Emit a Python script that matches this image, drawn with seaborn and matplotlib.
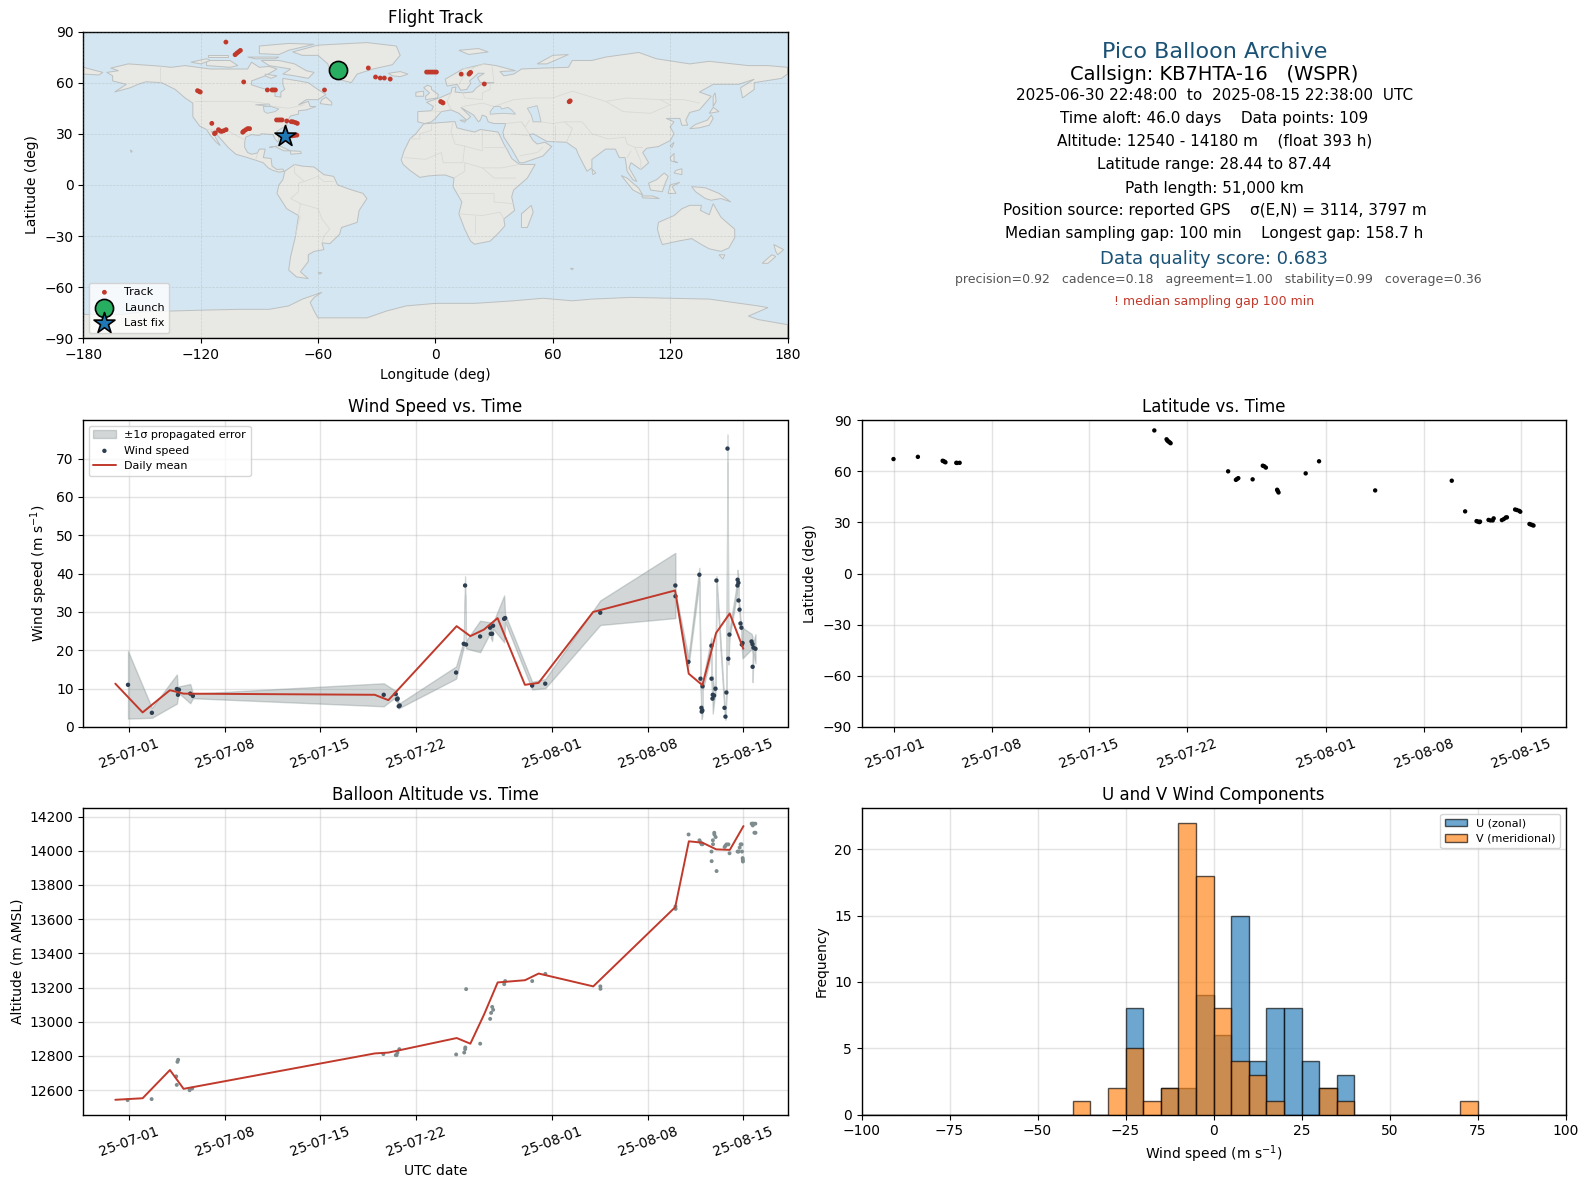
import numpy as np
import pandas as pd
import matplotlib
matplotlib.use("Agg")
import matplotlib.pyplot as plt
import matplotlib.dates as mdates
import seaborn as sns

# ---------- wind speed ----------
wind_days = [-0.07, 1.68, 3.51, 3.59, 3.66, 4.49, 4.68, 18.66, 19.54, 19.63, 19.68, 19.76, 19.83,
             23.96, 24.52, 24.62, 24.69, 25.72, 26.45, 26.5, 26.6, 26.67, 27.48, 27.55, 29.53, 30.49,
             34.52, 40.02, 40.03, 40.98, 41.78, 41.86, 41.93, 41.95, 42.0, 42.01, 42.66, 42.67, 42.74,
             42.76, 42.86, 42.96, 43.03, 43.62, 43.69, 43.76, 43.84, 43.9, 43.98, 44.57, 44.58, 44.64,
             44.65, 44.72, 44.79, 44.86, 44.89, 44.94, 45.6, 45.67, 45.68, 45.74, 45.89]
wind_speed = [11.0, 3.7, 9.9, 8.4, 9.7, 8.7, 8.1, 8.4, 8.6, 7.2, 7.4, 5.4, 5.6,
              14.2, 21.7, 36.9, 21.5, 23.6, 25.9, 24.3, 24.3, 26.4, 28.2, 28.4, 10.8, 11.3,
              29.8, 36.9, 34.1, 17.0, 39.7, 12.6, 5.0, 4.0, 4.3, 10.6, 21.2, 12.6, 7.4,
              8.4, 8.2, 10.0, 38.2, 5.0, 2.7, 9.0, 72.6, 17.8, 24.1, 36.9, 38.4, 37.6,
              33.0, 30.6, 27.0, 25.9, 21.5, 21.9, 22.3, 21.6, 15.7, 20.7, 20.4]
wind_sigma = [8.8, 1.3, 3.8, 0.5, 0.9, 2.5, 0.6, 3.0, 0.8, 0.8, 0.8, 0.6, 0.6,
              1.6, 0.8, 2.4, 1.0, 4.1, 1.4, 1.0, 1.9, 0.8, 6.1, 1.0, 1.0, 1.2,
              3.2, 8.5, 1.0, 1.2, 1.8, 1.2, 1.5, 1.9, 1.2, 1.2, 2.1, 1.2, 1.0,
              4.9, 1.5, 1.0, 1.2, 1.0, 0.8, 1.0, 3.7, 1.5, 1.0, 1.5, 2.6, 1.0,
              1.0, 1.0, 1.0, 1.0, 1.0, 4.0, 2.0, 2.0, 4.0, 1.5, 3.8]
mean_days = [-1, 1, 3, 4, 18, 19, 24, 25, 26, 27, 29, 30, 34, 40, 41, 42, 43, 44, 45]
wind_mean = [11.3, 3.8, 9.6, 8.7, 8.4, 7.0, 26.3, 23.7, 25.4, 28.4, 11.0, 11.5, 30.0, 35.6, 13.9, 10.9, 24.5, 29.6, 20.4]

# ---------- latitude vs time ----------
lat_days = [-0.07, 1.68, 3.46, 3.51, 3.59, 3.66, 4.44, 4.49, 4.68, 18.66, 19.54, 19.6, 19.68, 19.76, 19.83,
            23.96, 24.52, 24.6, 24.69, 25.72, 26.45, 26.55, 26.67, 27.48, 27.52, 27.58, 29.53, 30.49, 34.52, 40.02,
            40.98, 41.8, 41.9, 42.0, 42.05, 42.66, 42.8, 42.96, 43.03, 43.62, 43.76, 43.9, 43.98, 44.57,
            44.7, 44.86, 44.94, 45.6, 45.7, 45.8, 45.89]
lat_deg = [67.2, 68.5, 66.2, 66.0, 65.7, 65.3, 65.0, 64.9, 65.0, 84.0, 78.8, 78.0, 77.5, 77.0, 76.5,
           60.0, 55.0, 55.5, 56.0, 55.3, 63.3, 63.0, 62.2, 49.2, 48.5, 47.6, 58.8, 65.9, 48.8, 54.5,
           36.5, 30.8, 30.5, 30.2, 30.5, 31.5, 31.2, 31.2, 32.4, 31.4, 32.0, 32.9, 33.0, 37.6,
           37.3, 36.8, 36.3, 29.1, 28.8, 28.5, 28.2]

# ---------- altitude vs time ----------
alt_days = [-0.1, 1.66, 3.46, 3.5, 3.55, 3.6, 4.44, 4.63, 18.63, 19.54, 19.6, 19.66, 19.8,
            23.96, 24.55, 24.62, 24.63, 24.69, 25.72, 26.45, 26.52, 26.6, 26.67, 27.48, 27.55, 29.53, 30.49,
            34.52, 34.53, 40.02, 40.03, 40.98, 41.78, 41.86, 41.93, 42.0, 42.66, 42.67, 42.76, 42.77,
            42.86, 42.87, 42.96, 43.03, 43.62, 43.69, 43.76, 43.9, 43.98, 44.57, 44.64, 44.72, 44.79,
            44.86, 44.89, 44.94, 44.95, 44.96, 45.6, 45.67, 45.68, 45.74, 45.8, 45.87, 45.88]
alt_m = [12542, 12548, 12681, 12631, 12766, 12778, 12600, 12610, 12811, 12805, 12805, 12820, 12840,
         12809, 12820, 12840, 12850, 13191, 12872, 13017, 13052, 13087, 13070, 13220, 13238, 13238, 13280,
         13207, 13193, 13674, 13660, 14095, 14061, 14049, 14038, 14038, 13995, 13939, 14061, 14038,
         14105, 14095, 14080, 13881, 14022, 14030, 14037, 14037, 13985, 13995, 13995, 14018, 14037,
         14037, 13995, 13957, 13946, 13937, 14158, 14158, 14148, 14158, 14105, 14158, 14105]
alt_mean = [12544, 12553, 12718, 12608, 12815, 12820, 12905, 12872, 13042, 13230, 13243, 13282, 13207,
            13670, 14055, 14047, 14008, 14005, 14144]

# ---------- histogram ----------
bin_edges = list(range(-100, 105, 5))
u_counts = [0]*15 + [8, 0, 2, 2, 9, 6, 15, 4, 8, 8, 4, 2, 3] + [0]*12
v_counts = [0]*12 + [1, 0, 2, 5, 1, 2, 22, 18, 8, 4, 3, 1, 0, 0, 2, 1] + [0]*6 + [1, 0, 0, 0, 0, 0]

# ---------- map track ----------
track_lon = [-50, -34.3, -30.6, -28.2, -26.1, -23.1, -4.5, -3.5, -2.5, -1.5, -0.5, 0.5, 13.2, 17.2, 17.6, 18.0,
             25, 2.7, 3.3, 3.9, 68.4, 68.9, -107.1, -102.4, -101.5, -100.6, -99.7, -98, -121.6, -120.8, -120.2,
             -85.9, -83.5, -82.7, -81.8, -56.7, -81.2, -80.2, -79.3, -78.4, -76, -73.7, -72.8, -71.6, -70.6,
             -74.7, -73.2, -72, -70.8, -114.3, -112.9, -112.5, -110.9, -110, -109.2, -108.2, -107,
             -98.5, -98, -97, -96, -95, -77]
track_lat = [67.2, 68.6, 63.3, 62.7, 62.7, 62.1, 66.2, 66.2, 66.2, 66.2, 66.2, 66.2, 65, 65, 65.6, 66,
             59.2, 48.9, 48.5, 48.1, 48.8, 49.3, 83.8, 76.4, 77.3, 78.1, 78.9, 60.4, 55.3, 54.8, 54.5,
             55.7, 55.7, 55.7, 55.7, 55.7, 38.1, 38.1, 38.1, 38.1, 37.5, 37.1, 37, 36.6, 36.1,
             29, 28.8, 29, 29.2, 36.1, 30.1, 30.5, 32.4, 31.6, 31.4, 31.8, 32.4,
             30.9, 31.5, 32.3, 33, 33, 28.9]
launch_pos = (-50, 67.2)
last_pos = (-77, 28.9)

# ---------- map outlines (lon, lat) ----------
north_america = [(-168,66),(-162,67),(-166,68.5),(-157,71),(-141,69.7),(-135,69),(-128,70),(-115,68),(-108,68),(-96,68),(-94,72),(-90,69),(-85,69.5),(-81,68),(-87,64),(-94,61),(-94,58.7),(-88,56.5),(-82,55),(-82,52),(-79,51.5),(-79,54.5),(-77,56),(-78,59),(-78,62.5),(-70,61),(-65,60),(-62,57.5),(-56,53),(-60,50),(-66,50),(-70,47),(-65,49),(-64,46),(-61,46),(-66,44),(-70,43.5),(-70,41.5),(-74,40.5),(-76,37),(-76,35),(-81,31.5),(-80,27),(-80.5,25),(-82,27),(-83,29.5),(-85,29.7),(-89,30),(-90,29),(-94,29.5),(-97,28),(-97.5,25),(-97.5,22),(-96,19),(-94,18),(-91,18.7),(-90,21),(-87,21),(-88,16),(-84,15.5),(-83.5,11),(-81,9),(-78,9.3),(-77.3,8),(-80,7.5),(-83,8.5),(-85.5,10),(-88,13),(-92,14.5),(-96,16),(-102,18),(-106,22),(-109,26),(-113,31),(-114.7,31.5),(-112.5,28),(-110,23),(-112,25),(-115,29),(-117,32.5),(-120.5,34.5),(-124,40),(-124,48),(-128,51),(-133,56),(-140,60),(-148,60.5),(-152,59),(-156,57),(-164,54.5),(-158,59),(-165,61),(-165,64)]
greenland = [(-73,78),(-60,82),(-35,83.5),(-20,81.5),(-18,76),(-22,70.5),(-32,68),(-40,65),(-43,60),(-50,62),(-54,67),(-55,71),(-60,76),(-68,76)]
south_america = [(-77,8),(-72,12),(-68,11),(-62,10.5),(-57,6),(-52,5),(-50,0),(-44,-2.5),(-37,-5),(-35,-8),(-39,-15),(-40,-22),(-48,-25),(-49,-29),(-54,-34.5),(-58,-34),(-57,-38),(-62,-39),(-65,-41),(-65,-45),(-69,-51),(-65,-55),(-71,-54),(-75,-50),(-74,-42),(-71.5,-30),(-70,-18),(-76,-14),(-81,-5),(-80,0),(-78,3)]
africa = [(-6,35.8),(10,37.2),(11,33.5),(15,32.3),(20,31),(23,32.5),(32,31),(32.5,30),(35,24),(37,20),(39,15.5),(43,12),(51,12),(47,4),(40,-3),(39,-7),(40.5,-15),(35,-20),(35.5,-24),(32.5,-28),(28,-33),(20,-34.8),(18,-33),(15,-26),(12,-17),(13.5,-10),(9,-1),(9.5,4),(5,5.8),(1,5.7),(-4,5.2),(-8,4.4),(-13,8.5),(-16.5,12),(-17.5,14.7),(-16,20),(-13,27),(-10,30)]
eurasia = [(-9,37),(-9,43),(-2,43.5),(-1,46),(-4.5,48.5),(2,51),(8,54),(8.5,57),(10.5,57.5),(10,54.5),(14,54),(19,54.5),(21,57),(24,59.5),(30,60),(23,60),(21.5,63),(25,65.5),(22,65.5),(17.5,61),(18,59.5),(16,56),(13,55.5),(11,59),(6,58),(5,62),(14,68),(25,71),(31,70),(41,67),(33,66.5),(35,64),(40,65),(44,68),(54,68.5),(68,69),(70,73),(80,73),(87,75),(104,77.7),(113,74),(130,71),(140,72.5),(160,70),(170,70),(180,69),(180,65),(177,62.5),(163,60),(163,56),(157,51),(156,57),(163,62),(155,59),(142,59),(135,54.5),(141,52),(135,44),(130,42.5),(128,38),(129,35),(126,35),(125,39),(121,39),(118,39),(122,37),(120,34),(122,30),(120,26),(114,22.5),(108,21.5),(106,19),(109,13),(105,9),(100,13),(99,10),(103,2),(101,3),(98,8),(97,16),(94,16),(92,21),(87,21),(80,15),(80,10),(77.5,8),(73,18),(72,21),(67,25),(57,25.5),(50,30),(48,29.5),(50,26),(52,24),(56,25),(59.5,22.5),(55,17),(45,13),(43,13),(39,21),(35,28),(34.5,31),(36,36),(30,36),(27,37),(26,40),(24,41),(23,38),(22,37),(19.5,41),(13,45.5),(18,40),(16,38),(12,42),(8,44),(3,43),(0,39),(-2,37),(-5.5,36)]
australia = [(114,-22),(122,-18),(126,-14),(130,-12),(136,-12),(135.5,-15),(140,-17.5),(142,-11),(146,-19),(153,-26),(153,-31),(150,-37),(146,-39),(140,-37.5),(136,-35),(131,-31.5),(124,-33),(116,-35),(115,-32),(113.5,-26)]
antarctica = [(-180,-76),(-160,-76),(-150,-74.5),(-120,-73.5),(-100,-73),(-85,-73),(-75,-71),(-68,-67),(-58,-63),(-62,-66),(-64,-69),(-62,-74),(-60,-78),(-50,-78),(-35,-78),(-25,-74),(-15,-71),(0,-69.5),(20,-69.5),(40,-68),(55,-66.5),(70,-68),(80,-67),(100,-66),(120,-66.5),(140,-67),(165,-71),(170,-72),(160,-77),(165,-79),(180,-82),(180,-90),(-180,-90)]
islands = [
    [(-180,65),(-172,64.5),(-170,66),(-175,67.5),(-180,69)],
    [(-80,73),(-72,71),(-66,67),(-62,66),(-65,62.5),(-72,64),(-78,65),(-74,68),(-85,70),(-89,73)],
    [(-117,70),(-105,69),(-101,70),(-105,73),(-117,73)],
    [(-125,72),(-117,74),(-115,73),(-120,71)],
    [(-90,77),(-80,76.5),(-75,79),(-62,82.5),(-75,83),(-90,81.5)],
    [(-96,75),(-80,75),(-82,74),(-92,74)],
    [(-116,75),(-106,75),(-106,76.5),(-116,76.5)],
    [(-59,47.7),(-53,46.8),(-53,48.5),(-56,51.5),(-58,50)],
    [(-87,65),(-81,64),(-84,62.5),(-87,64)],
    [(-85,22),(-80,23),(-74,20),(-77.5,20),(-82,22.5)],
    [(-74,20),(-69,19.7),(-68.5,18.5),(-74,18)],
    [(-156,20.5),(-155,19.8),(-155.5,19)],
    [(-24,65.5),(-18,66.5),(-14,65),(-18,63.5),(-22,64)],
    [(-5,50),(1,51),(1.5,53),(-2,56),(-2,57.5),(-4,58.5),(-6,57),(-3,54),(-5,52)],
    [(-10,52),(-6,52),(-6,55),(-10,54.3)],
    [(12,79),(22,80),(27,78),(17,76.5)],
    [(52,71),(57,71),(68,76.5),(60,76)],
    [(12.5,38),(15.5,38),(15,36.7)],
    [(130,33),(135,33.5),(140,35),(142,39),(141,41),(139,38),(133,35.5)],
    [(140,42),(145,43),(142,45.5)],
    [(142,46),(143.5,49),(143,54),(142,52)],
    [(120,23),(122,25),(121,22)],
    [(120,16),(122,18.5),(122,14),(124,13),(120.5,14)],
    [(122,7),(126,6),(126,9.5),(123,8.5)],
    [(109,1),(113,3),(117,7),(119,5),(117.5,1),(116,-4),(110,-3)],
    [(95,5.5),(98,4),(104,-2),(106,-6),(101,-3)],
    [(105.5,-6.5),(111,-6.5),(114.5,-8),(106,-7.6)],
    [(119,-5),(120,0),(125,1.5),(121,-1),(123,-5)],
    [(131,-1),(138,-1.7),(145,-5),(151,-10),(146,-8),(141,-9),(138,-8),(133,-4)],
    [(145,-41),(148,-41),(147,-43.5)],
    [(173,-35),(178,-38),(175,-41),(174,-39)],
    [(172,-41),(174,-42),(170,-46),(167,-46)],
    [(49,-12),(50,-16),(47,-25),(44,-25),(44,-17)],
    [(80,9.5),(82,7),(80.5,6)],
    [(-60,-51.5),(-58,-51.5),(-59,-52.3)],
    [(69,-49),(70.5,-49),(70,-49.8)],
]
inland_water = [
    [(28,41.5),(35,42),(41,41.5),(39,44),(37,45.5),(34,44.5),(33,46),(30,46),(28,43)],
    [(47,45),(52,46.5),(53,42),(54,37),(50,37),(49,41)],
    [(-92,47),(-85,47.5),(-84.5,46),(-88,46.5)],
    [(-88,46),(-84,46),(-80,44.5),(-82,43),(-86,42),(-87.5,43)],
]
borders = [
    [(-123,49),(-95,49),(-88,48),(-83,46),(-75,45),(-67,47)],
    [(-141,69.7),(-141,60)],
    [(-117,32.5),(-106,31.7),(-97,26)],
    [(-92,14.5),(-91,18)],
    [(-70,-18),(-69,-11),(-74,-8),(-70,-4),(-70,1),(-67,2),(-60,5)],
    [(-58,-34),(-57,-30),(-54,-26),(-58,-20),(-60,-14),(-69,-11)],
    [(-71.5,-30),(-70,-22),(-69,-18)],
    [(-72,12),(-72,7),(-67,2)],
    [(-60,5),(-57,2),(-52,2)],
    [(-13,27),(-8,27),(-8,30),(-2,32),(-2,35)],
    [(9,37),(8,31),(10,24),(14,23),(24,20),(24,32)],
    [(25,22),(36,22)],
    [(-16,16),(-5,15),(3,19),(4,13),(14,13),(15,23)],
    [(15,13),(24,10),(34,10),(43,12)],
    [(24,10),(30,4),(41,4)],
    [(9.5,4),(15,8),(15,13)],
    [(13,-5),(30,-5),(30,-10),(40,-11)],
    [(12,-17),(24,-18),(33,-16),(35,-20)],
    [(20,-28),(20,-18)],
    [(-2,43.5),(3,43)],
    [(8,44),(6,49),(8,54)],
    [(14,54),(15,51),(24,50),(24,54),(28,56),(28,60)],
    [(14,46),(24,48),(30,46)],
    [(30,46),(40,50),(50,51),(60,51),(70,55),(87,49),(98,51),(115,50),(127,50),(135,48)],
    [(87,49),(96,43),(110,42),(120,47),(115,50)],
    [(54,37),(60,36),(66,37),(75,37),(80,30),(88,27),(97,28),(98,24),(102,22),(106,22)],
    [(61,35),(61,25)],
    [(66,37),(70,33),(67,25)],
    [(36,36),(44,37),(48,30)],
    [(44,37),(46,34),(48,38)],
    [(39,30),(47,29)],
    [(43,17),(52,19),(55,22)],
    [(100,20),(98,16)],
    [(102,22),(105,14),(105,9)],
    [(14,68),(20,69),(25,71)],
    [(12,59),(15,65),(20,69)],
    [(30,60),(29,69)],
]

# ---------- text ----------
info_lines = ["2025-06-30 22:48:00  to  2025-08-15 22:38:00  UTC",
              "Time aloft: 46.0 days    Data points: 109",
              "Altitude: 12540 - 14180 m    (float 393 h)",
              "Latitude range: 28.44 to 87.44",
              "Path length: 51,000 km",
              "Position source: reported GPS    \u03c3(E,N) = 3114, 3797 m",
              "Median sampling gap: 100 min    Longest gap: 158.7 h"]
date_ticks = ["2025-07-01", "2025-07-08", "2025-07-15", "2025-07-22", "2025-08-01", "2025-08-08", "2025-08-15"]

RED = "#c0392b"
NAVY = "#1a5276"
W, H = 1590, 1189
base = pd.Timestamp("2025-07-01")


def to_dates(days):
    return base + pd.to_timedelta(np.asarray(days, dtype=float), unit="D")


def px_axes(x0, x1, y0, y1):
    return fig.add_axes([x0 / W, 1 - y1 / H, (x1 - x0) / W, (y1 - y0) / H])


def style_time(ax):
    ax.set_xticks(pd.to_datetime(date_ticks))
    ax.xaxis.set_major_formatter(mdates.DateFormatter("%y-%m-%d"))
    ax.tick_params(axis="x", labelrotation=20)
    ax.grid(True, color="#b0b0b0", alpha=0.35, lw=1)
    ax.set_axisbelow(True)
    ax.set_xlabel("")


sns.set_style("ticks")
plt.rcParams["font.family"] = ["DejaVu Sans"]
plt.rcParams.update({"axes.edgecolor": "black", "xtick.color": "black", "ytick.color": "black",
                     "text.color": "black", "axes.labelcolor": "black", "xtick.direction": "out",
                     "ytick.direction": "out", "xtick.bottom": True, "ytick.left": True,
                     "axes.linewidth": 1.0})
fig = plt.figure(figsize=(W / 100, H / 100), dpi=100, facecolor="white")
LX0, LX1, RX0, RX1 = 83.3, 787.5, 861.5, 1565.5
R1, R2, R3 = (31.5, 338.3), (420.2, 727), (808.3, 1114.5)

# Map
ax = px_axes(LX0, LX1, *R1)
ax.set_facecolor("#d4e6f1")
for poly in [north_america, greenland, south_america, africa, eurasia, australia, antarctica] + islands:
    lons, lats = zip(*poly)
    ax.fill(lons, lats, facecolor="#e8e8e4", edgecolor="#bcc0c0", lw=0.7, zorder=1)
for poly in inland_water:
    lons, lats = zip(*poly)
    ax.fill(lons, lats, facecolor="#d4e6f1", edgecolor="#bcc0c0", lw=0.6, zorder=1.1)
for line in borders:
    lons, lats = zip(*line)
    ax.plot(lons, lats, color="#d9d9d5", lw=0.6, zorder=1.05)
ax.grid(True, color="#7f8c8d", alpha=0.25, lw=0.5, ls="--", zorder=1.5)
ax.set_axisbelow(False)
sns.scatterplot(x=track_lon, y=track_lat, s=12, color=RED, edgecolor="none", label="Track", ax=ax, zorder=3)
sns.scatterplot(x=[launch_pos[0]], y=[launch_pos[1]], s=170, color="#27ae60", edgecolor="black", linewidth=1.2,
                label="Launch", ax=ax, zorder=4)
sns.scatterplot(x=[last_pos[0]], y=[last_pos[1]], s=250, marker="*", color="#1f77b4", edgecolor="black",
                linewidth=1.2, label="Last fix", ax=ax, zorder=5)
ax.set_xlim(-180, 180)
ax.set_ylim(-90, 90)
ax.set_xticks(range(-180, 181, 60))
ax.set_yticks(range(-90, 91, 30))
ax.set_xlabel("Longitude (deg)", fontsize=10)
ax.set_ylabel("Latitude (deg)", fontsize=10)
ax.set_title("Flight Track", fontsize=12)
ax.legend(loc="lower left", fontsize=8, frameon=True)

# Info panel
ax = px_axes(RX0, RX1, *R1)
ax.axis("off")


def frac(y):
    return 1 - (y - R1[0]) / (R1[1] - R1[0])


CX = 0.5 + 1 / 704
ax.text(CX, frac(52), "Pico Balloon Archive", color=NAVY, fontsize=16, ha="center", va="center", transform=ax.transAxes)
ax.text(CX, frac(74.5), "Callsign: KB7HTA-16   (WSPR)", fontsize=14, ha="center", va="center", transform=ax.transAxes)
for y, s in zip([95, 118, 141, 164, 188, 210, 233.5], info_lines):
    ax.text(CX, frac(y), s, fontsize=11, ha="center", va="center", transform=ax.transAxes)
ax.text(CX, frac(258.5), "Data quality score: 0.683", color=NAVY, fontsize=13, ha="center", va="center", transform=ax.transAxes)
ax.text(0.5 + 5 / 704, frac(279), "precision=0.92   cadence=0.18   agreement=1.00   stability=0.99   coverage=0.36",
        color="#555555", fontsize=9, ha="center", va="center", transform=ax.transAxes)
ax.text(CX, frac(301), "! median sampling gap 100 min", color=RED, fontsize=9, ha="center", va="center", transform=ax.transAxes)

# Wind speed
ax = px_axes(LX0, LX1, *R2)
speed = np.array(wind_speed)
sigma = np.array(wind_sigma)
ax.fill_between(to_dates(wind_days), np.clip(speed - sigma, 0, None), speed + sigma, color="#7f8c8d", alpha=0.35,
                label="\u00b11\u03c3 propagated error")
sns.scatterplot(x=to_dates(wind_days), y=wind_speed, s=10, color="#2c3e50", edgecolor="none", label="Wind speed", ax=ax, zorder=3)
sns.lineplot(x=to_dates(mean_days), y=wind_mean, color=RED, lw=1.4, label="Daily mean", ax=ax, errorbar=None, zorder=4)
style_time(ax)
ax.set_ylim(0, 80)
ax.set_yticks(range(0, 71, 10))
ax.set_ylabel("Wind speed (m s$^{-1}$)", fontsize=10)
ax.set_title("Wind Speed vs. Time", fontsize=12)
ax.legend(loc="upper left", fontsize=8, frameon=True)

# Latitude
ax = px_axes(RX0, RX1, *R2)
sns.scatterplot(x=to_dates(lat_days), y=lat_deg, s=10, color="black", edgecolor="none", ax=ax, zorder=3)
style_time(ax)
ax.set_ylim(-90, 90)
ax.set_yticks(range(-90, 91, 30))
ax.set_ylabel("Latitude (deg)", fontsize=10)
ax.set_title("Latitude vs. Time", fontsize=12)

# Altitude
ax = px_axes(LX0, LX1, *R3)
sns.scatterplot(x=to_dates(alt_days), y=alt_m, s=8, color="#7f8c8d", edgecolor="none", ax=ax, zorder=3)
sns.lineplot(x=to_dates(mean_days), y=alt_mean, color=RED, lw=1.4, ax=ax, errorbar=None, zorder=4)
style_time(ax)
ax.set_ylim(12458, 14248)
ax.set_yticks(range(12600, 14201, 200))
ax.set_xlabel("UTC date", fontsize=10)
ax.set_ylabel("Altitude (m AMSL)", fontsize=10)
ax.set_title("Balloon Altitude vs. Time", fontsize=12)

# Histogram
ax = px_axes(RX0, RX1, *R3)
centers = (np.array(bin_edges[:-1]) + np.array(bin_edges[1:])) / 2
sns.histplot(x=centers, weights=u_counts, bins=bin_edges, color="#1f77b4", alpha=0.65, edgecolor=(0, 0, 0, 0.65), lw=1,
             label="U (zonal)", ax=ax, zorder=3)
sns.histplot(x=centers, weights=v_counts, bins=bin_edges, color="#ff7f0e", alpha=0.65, edgecolor=(0, 0, 0, 0.65), lw=1,
             label="V (meridional)", ax=ax, zorder=3)
ax.set_xlim(-100, 100)
ax.set_xticks(range(-100, 101, 25))
ax.set_yticks(range(0, 21, 5))
ax.grid(True, color="#b0b0b0", alpha=0.35, lw=1)
ax.set_axisbelow(True)
ax.set_xlabel("Wind speed (m s$^{-1}$)", fontsize=10)
ax.set_ylabel("Frequency", fontsize=10)
ax.set_title("U and V Wind Components", fontsize=12)
ax.legend(loc="upper right", fontsize=8, frameon=True)

fig.savefig("out.png", dpi=100)
